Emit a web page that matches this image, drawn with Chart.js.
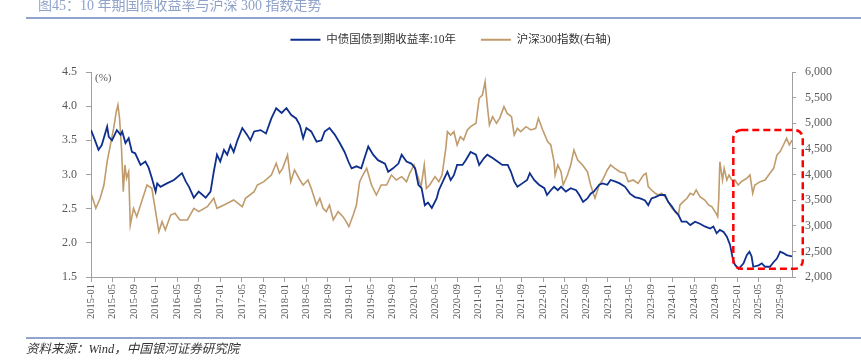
<!DOCTYPE html>
<html><head><meta charset="utf-8">
<script src="https://cdn.jsdelivr.net/npm/chart.js@4.4.1/dist/chart.umd.min.js"></script>
<style>
html,body{margin:0;padding:0;background:#fff;}
#wrap{position:relative;width:861px;height:360px;overflow:hidden;background:#fff;}
#c{position:absolute;left:0;top:0;}
#title{position:absolute;left:38px;top:-1px;font:14px/14px "Liberation Serif","Noto Sans CJK SC";color:#8FA2C9;white-space:nowrap;}
.rule{position:absolute;left:26px;right:0;height:2px;background:#8FA5CC;}
#note{position:absolute;left:26px;top:342px;font:italic 12.5px/14px "Liberation Serif","Noto Sans CJK SC";color:#333;white-space:nowrap;}
</style></head>
<body><div id="wrap">
<canvas id="c" width="861" height="360"></canvas>
<div id="title">图45：10 年期国债收益率与沪深 300 指数走势</div>
<div class="rule" style="top:17px"></div>
<div class="rule" style="top:337px"></div>
<div id="note">资料来源：Wind，中国银河证券研究院</div>
</div>
<script>
// ---- data ----
const seriesNames = ['中债国债到期收益率:10年', '沪深300指数(右轴)'];

const yieldDates = ['2015-01-01','2015-01-16','2015-02-13','2015-03-01','2015-04-01','2015-04-10','2015-04-28','2015-05-25','2015-06-16','2015-06-25',
'2015-07-13','2015-08-01','2015-08-19','2015-09-07','2015-10-07','2015-11-04','2015-11-22','2015-12-10','2016-01-01','2016-01-10',
'2016-01-28','2016-03-04','2016-04-13','2016-05-28','2016-06-19','2016-07-07','2016-08-04','2016-09-01','2016-10-10','2016-11-07',
'2016-11-25','2016-12-13','2017-01-01','2017-01-22','2017-02-10','2017-02-28','2017-03-16','2017-04-07','2017-05-04','2017-06-01',
'2017-06-19','2017-07-10','2017-08-16','2017-09-16','2017-10-16','2017-11-13','2017-12-13','2018-01-10','2018-02-07','2018-03-04',
'2018-03-25','2018-04-13','2018-05-01','2018-05-28','2018-06-28','2018-07-25','2018-08-13','2018-09-10','2018-10-10','2018-11-07',
'2018-12-04','2018-12-25','2019-01-13','2019-02-10','2019-03-07','2019-03-25','2019-04-16','2019-05-13','2019-06-10','2019-07-19',
'2019-08-07','2019-09-04','2019-10-04','2019-10-22','2019-11-19','2019-12-16','2020-01-07','2020-01-25','2020-02-13','2020-03-01',
'2020-03-19','2020-04-10','2020-05-07','2020-05-19','2020-06-19','2020-07-07','2020-07-25','2020-08-13','2020-09-01','2020-10-01',
'2020-10-19','2020-11-16','2020-12-16','2021-01-04','2021-02-01','2021-02-19','2021-03-19','2021-04-16','2021-05-13','2021-06-13',
'2021-07-01','2021-07-19','2021-08-07','2021-09-04','2021-10-01','2021-10-16','2021-11-10','2021-12-07','2022-01-07','2022-01-22',
'2022-02-13','2022-03-01','2022-03-22','2022-04-10','2022-05-07','2022-06-04','2022-07-04','2022-07-22','2022-08-13','2022-09-07',
'2022-09-25','2022-10-13','2022-11-13','2022-12-01','2022-12-28','2023-01-16','2023-02-10','2023-03-07','2023-04-07','2023-05-04',
'2023-06-01','2023-07-01','2023-07-28','2023-08-16','2023-09-04','2023-09-25','2023-10-22','2023-11-19','2023-12-07','2023-12-28',
'2024-01-16','2024-02-04','2024-02-22','2024-03-19','2024-04-10','2024-05-07','2024-06-04','2024-07-01','2024-08-01','2024-08-19',
'2024-09-07','2024-09-25','2024-10-16','2024-11-04','2024-11-22','2024-12-07','2024-12-19','2025-01-10','2025-02-07','2025-02-25',
'2025-03-10','2025-03-22','2025-04-01','2025-05-01','2025-05-19','2025-06-07','2025-07-04','2025-07-25','2025-08-13','2025-09-01',
'2025-09-19','2025-10-07','2025-11-07'];
const yieldValues = [3.65,3.55,3.36,3.43,3.70,3.55,3.50,3.65,3.58,3.63,
3.46,3.53,3.33,3.31,3.14,3.19,3.10,2.95,2.75,2.87,
2.82,2.87,2.92,3.02,2.90,2.82,2.66,2.75,2.66,2.75,
3.04,3.29,3.19,3.36,3.29,3.43,3.33,3.50,3.68,3.58,
3.50,3.63,3.65,3.60,3.82,3.97,3.90,3.97,3.87,3.82,
3.72,3.53,3.68,3.63,3.48,3.50,3.63,3.68,3.58,3.46,
3.33,3.19,3.09,3.12,3.09,3.24,3.41,3.29,3.21,3.16,
3.04,3.09,3.16,3.29,3.19,3.16,3.09,2.85,2.80,2.55,
2.59,2.51,2.65,2.77,2.94,3.04,2.92,2.99,3.14,3.14,
3.21,3.33,3.29,3.14,3.24,3.29,3.24,3.19,3.14,3.14,
3.04,2.90,2.82,2.87,2.92,3.02,2.92,2.85,2.80,2.70,
2.77,2.82,2.77,2.82,2.75,2.80,2.77,2.70,2.60,2.65,
2.72,2.75,2.85,2.87,2.85,2.92,2.90,2.87,2.82,2.72,
2.67,2.65,2.62,2.55,2.65,2.67,2.70,2.70,2.60,2.53,
2.46,2.41,2.31,2.31,2.26,2.31,2.28,2.24,2.21,2.24,
2.14,2.19,2.16,2.09,1.97,1.77,1.68,1.62,1.70,1.82,
1.87,1.80,1.65,1.67,1.70,1.65,1.65,1.72,1.77,1.87,
1.85,1.82,1.80];

const csiDates = ['2015-01-01','2015-01-28','2015-02-22','2015-03-13','2015-04-01','2015-04-19','2015-05-07','2015-05-22','2015-06-01','2015-06-10',
'2015-06-21','2015-07-01','2015-07-10','2015-07-19','2015-08-01','2015-08-10','2015-08-28','2015-09-16','2015-10-07','2015-10-25',
'2015-11-13','2015-12-10','2016-01-01','2016-01-19','2016-02-07','2016-02-25','2016-03-25','2016-04-19','2016-05-16','2016-06-28',
'2016-08-04','2016-09-01','2016-10-19','2016-11-25','2016-12-13','2017-01-22','2017-03-16','2017-05-04','2017-05-22','2017-07-10',
'2017-07-28','2017-09-04','2017-10-16','2017-11-13','2017-12-01','2017-12-19','2018-01-16','2018-02-04','2018-02-25','2018-03-25',
'2018-04-13','2018-05-10','2018-05-28','2018-06-28','2018-07-16','2018-08-04','2018-08-22','2018-09-10','2018-10-01','2018-10-28',
'2018-11-25','2018-12-13','2018-12-28','2019-01-22','2019-02-10','2019-02-28','2019-03-16','2019-04-07','2019-05-04','2019-06-01',
'2019-06-28','2019-07-28','2019-08-25','2019-09-22','2019-10-22','2019-11-19','2019-12-07','2020-01-01','2020-01-25','2020-02-10',
'2020-02-28','2020-03-10','2020-03-28','2020-04-28','2020-05-19','2020-06-07','2020-06-28','2020-07-07','2020-07-25','2020-08-13',
'2020-09-01','2020-09-19','2020-10-07','2020-10-28','2020-11-16','2020-12-16','2021-01-04','2021-01-22','2021-02-07','2021-02-19',
'2021-03-01','2021-03-19','2021-04-10','2021-04-28','2021-05-22','2021-06-10','2021-07-04','2021-07-19','2021-08-07','2021-08-25',
'2021-09-25','2021-10-22','2021-11-19','2021-12-04','2021-12-28','2022-01-25','2022-02-13','2022-03-01','2022-03-07','2022-03-22',
'2022-04-10','2022-04-22','2022-05-16','2022-06-04','2022-06-22','2022-07-13','2022-08-10','2022-09-07','2022-09-25','2022-10-19',
'2022-11-13','2022-12-01','2022-12-28','2023-01-16','2023-02-10','2023-03-07','2023-04-07','2023-04-25','2023-05-22','2023-06-19',
'2023-07-19','2023-08-04','2023-08-16','2023-09-04','2023-09-25','2023-10-13','2023-11-01','2023-11-19','2023-12-07','2023-12-28',
'2024-01-16','2024-02-04','2024-02-13','2024-03-01','2024-03-22','2024-04-10','2024-04-28','2024-05-13','2024-06-04','2024-07-01',
'2024-07-22','2024-08-10','2024-09-04','2024-09-13','2024-09-19','2024-09-25','2024-10-10','2024-10-19','2024-11-04','2024-11-16',
'2024-12-01','2024-12-19','2025-01-07','2025-01-25','2025-02-25','2025-03-13','2025-03-28','2025-04-10','2025-05-10','2025-06-07',
'2025-07-04','2025-07-25','2025-08-13','2025-09-01','2025-09-19','2025-10-07','2025-10-22','2025-11-07'];
const csiValues = [3633,3340,3536,3795,4250,4576,4900,5226,5356,5100,
4511,3665,4186,3926,4055,3015,3340,3177,3405,3600,
3795,3730,3275,2884,3080,2917,3210,3243,3113,3113,
3340,3275,3372,3536,3340,3405,3503,3372,3536,3665,
3795,3860,3990,4219,4024,4120,4380,3860,4088,3893,
3795,3893,3730,3405,3536,3340,3275,3405,3113,3275,
3177,3080,2982,3210,3405,3860,3990,4120,3795,3600,
3795,3795,3990,3893,3958,3860,4024,4186,3926,3763,
4186,3730,3795,3960,3860,3990,4511,4836,4771,4836,
4576,4738,4673,4869,4933,4999,5487,5551,5811,5356,
4966,5128,4999,5096,5324,5193,5128,4771,4900,4836,
4933,4869,4900,5096,4869,4641,4576,4250,3990,4186,
4055,3795,3990,4186,4478,4283,4186,4055,3795,3536,
3795,3893,4088,4186,4120,4055,4024,3860,3893,3828,
3990,4024,3763,3698,3633,3600,3633,3568,3470,3340,
3275,3210,3405,3470,3536,3633,3600,3698,3568,3503,
3405,3372,3243,3177,3536,4250,3893,4120,3893,3990,
3893,3893,3795,3860,3926,3990,3633,3795,3860,3893,
4024,4120,4380,4446,4576,4706,4576,4673];

const xTickLabels = ['2015-01','2015-05','2015-09','2016-01','2016-05','2016-09','2017-01','2017-05','2017-09',
'2018-01','2018-05','2018-09','2019-01','2019-05','2019-09','2020-01','2020-05','2020-09','2021-01','2021-05','2021-09',
'2022-01','2022-05','2022-09','2023-01','2023-05','2023-09','2024-01','2024-05','2024-09','2025-01','2025-05','2025-09'];
const xRange = ['2015-01-01', '2025-11-07'];
const leftRange = [1.5, 4.5, 0.5];
const rightRange = [2000, 6000, 500];
const unitLabel = '(%)';
// highlighted window (red dashed box), in data terms
const highlight = { from: '2024-12-10', to: '2026-01-07', low: 1.62, high: 3.65 };

// ---- helpers ----
function monthPos(s) {
  const p = s.split('-').map(Number);
  return (p[0] - 2015) * 12 + (p[1] - 1) + ((p[2] || 1) - 1) / 30;
}
const blue = '#0E2F8C', tan = '#C09B6C', axisGray = '#A0A0A0', tickText = '#595959';
const numFont = '"Liberation Serif", "Noto Sans CJK SC", serif';

const extras = {
  id: 'extras',
  afterDatasetsDraw(chart) {
    const { ctx, chartArea, scales } = chart;
    ctx.save();
    ctx.font = '11px ' + numFont;
    ctx.fillStyle = tickText;
    ctx.textBaseline = 'middle';
    ctx.textAlign = 'left';
    ctx.fillText(unitLabel, chartArea.left + 4, chartArea.top + 6);
    // red dashed rounded box
    const x0 = scales.x.getPixelForValue(monthPos(highlight.from));
    const x1 = scales.x.getPixelForValue(monthPos(highlight.to));
    const y0 = scales.y.getPixelForValue(highlight.high);
    const y1 = scales.y.getPixelForValue(highlight.low);
    const r = 8;
    ctx.strokeStyle = '#FF0000';
    ctx.lineWidth = 2.5;
    ctx.setLineDash([7, 4]);
    ctx.beginPath();
    ctx.moveTo(x0 + r, y0);
    ctx.lineTo(x1 - r, y0); ctx.arcTo(x1, y0, x1, y0 + r, r);
    ctx.lineTo(x1, y1 - r); ctx.arcTo(x1, y1, x1 - r, y1, r);
    ctx.lineTo(x0 + r, y1); ctx.arcTo(x0, y1, x0, y1 - r, r);
    ctx.lineTo(x0, y0 + r); ctx.arcTo(x0, y0, x0 + r, y0, r);
    ctx.closePath();
    ctx.stroke();
    ctx.restore();
  }
};

new Chart(document.getElementById('c'), {
  type: 'line',
  data: {
    datasets: [
      { label: seriesNames[0], data: yieldDates.map((d, i) => ({ x: monthPos(d), y: yieldValues[i] })),
        borderColor: blue, backgroundColor: blue, borderWidth: 1.8, pointRadius: 0, tension: 0, yAxisID: 'y' },
      { label: seriesNames[1], data: csiDates.map((d, i) => ({ x: monthPos(d), y: csiValues[i] })),
        borderColor: tan, backgroundColor: tan, borderWidth: 1.6, pointRadius: 0, tension: 0, yAxisID: 'y1' }
    ]
  },
  options: {
    responsive: false,
    animation: false,
    devicePixelRatio: 1,
    layout: { padding: { left: 40, right: 0, top: 9, bottom: 33 } },
    plugins: {
      legend: {
        position: 'top',
        labels: {
          boxWidth: 30, boxHeight: 2, padding: 25, color: '#333',
          font: { size: 11.5, family: numFont },
          generateLabels: (chart) => Chart.defaults.plugins.legend.labels.generateLabels(chart)
            .map(l => Object.assign(l, { lineWidth: 0, fillStyle: l.strokeStyle }))
        }
      },
      title: { display: true, text: '', weight: 500, padding: 0, font: { size: 16.5, lineHeight: 1 } },
      tooltip: { enabled: false }
    },
    scales: {
      x: {
        type: 'linear', min: monthPos(xRange[0]), max: monthPos(xRange[1]),
        afterBuildTicks: (s) => { s.ticks = xTickLabels.map(l => ({ value: monthPos(l) })); },
        afterFit: (s) => { s.height = 50; },
        ticks: { autoSkip: false, maxRotation: 90, minRotation: 90, padding: 2, color: tickText,
                 font: { size: 10.5, family: numFont },
                 callback: (v, i) => xTickLabels[i] },
        grid: { drawOnChartArea: false, drawTicks: true, tickLength: 5, color: axisGray },
        border: { color: axisGray, width: 1 }
      },
      y: {
        position: 'left', min: leftRange[0], max: leftRange[1],
        afterFit: (s) => { s.width = 51; },
        ticks: { stepSize: leftRange[2], padding: 9, color: tickText, font: { size: 12, family: numFont },
                 callback: (v) => Number(v).toFixed(1) },
        grid: { drawOnChartArea: false, drawTicks: true, tickLength: 5, color: axisGray },
        border: { color: axisGray, width: 1 }
      },
      y1: {
        position: 'right', min: rightRange[0], max: rightRange[1],
        afterFit: (s) => { s.width = 69; },
        ticks: { stepSize: rightRange[2], padding: 9, color: tickText, font: { size: 12, family: numFont },
                 callback: (v) => Number(v).toLocaleString('en-US') },
        grid: { drawOnChartArea: false, drawTicks: true, tickLength: 4, color: axisGray },
        border: { color: axisGray, width: 1 }
      }
    }
  },
  plugins: [extras]
});
</script>
</body></html>
